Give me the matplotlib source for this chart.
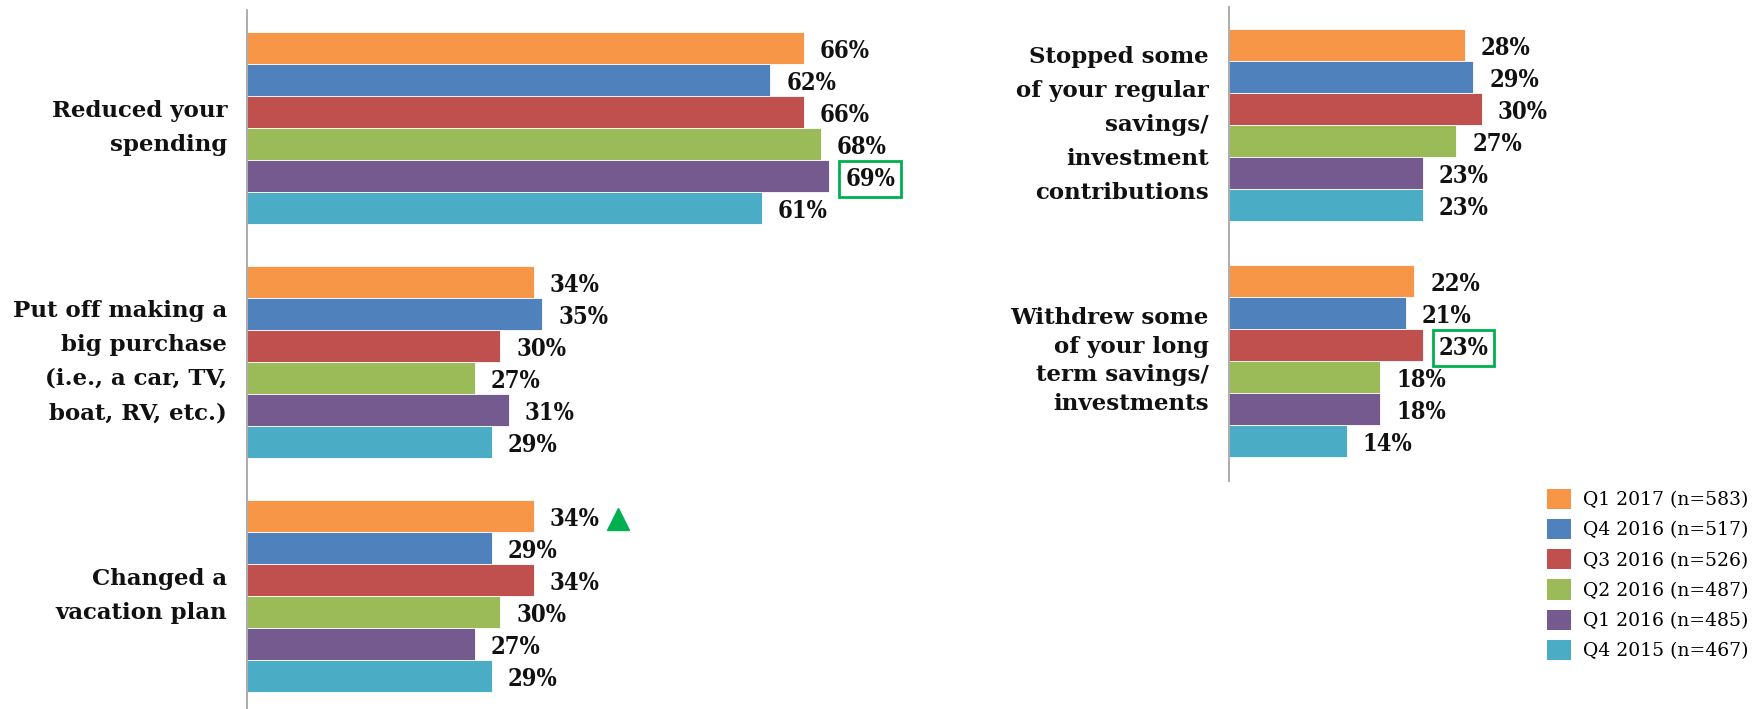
import matplotlib
matplotlib.use("Agg")
import matplotlib.pyplot as plt
from matplotlib.patches import Patch
from matplotlib.transforms import ScaledTranslation

# ---- data -------------------------------------------------------------
left_categories = [
    "Reduced your\nspending",
    "Put off making a\nbig purchase\n(i.e., a car, TV,\nboat, RV, etc.)",
    "Changed a\nvacation plan",
]
right_categories = [
    "Stopped some\nof your regular\nsavings/\ninvestment\ncontributions",
    "Withdrew some\nof your long\nterm savings/\ninvestments",
]
series_labels = [
    "Q1 2017 (n=583)",
    "Q4 2016 (n=517)",
    "Q3 2016 (n=526)",
    "Q2 2016 (n=487)",
    "Q1 2016 (n=485)",
    "Q4 2015 (n=467)",
]
# values per series, in order: left categories then right categories
q1_2017 = [66, 34, 34, 28, 22]
q4_2016 = [62, 35, 29, 29, 21]
q3_2016 = [66, 30, 34, 30, 23]
q2_2016 = [68, 27, 30, 27, 18]
q1_2016 = [69, 31, 27, 23, 18]
q4_2015 = [61, 29, 29, 23, 14]
series_values = [q1_2017, q4_2016, q3_2016, q2_2016, q1_2016, q4_2015]

colors = ["#F79646", "#4F81BD", "#C0504D", "#9BBB59", "#745A8F", "#4BACC6"]

# (series index, category index) pairs that get a green box / up arrow
boxed = [(4, 0), (2, 4)]
up_arrows = [(0, 2)]

# ---- layout (pixel based) --------------------------------------------
W, H, DPI = 1762, 709, 100
PX_PER_PCT = 8.44
BAR_H = 32.0

fig = plt.figure(figsize=(W / DPI, H / DPI), dpi=DPI)
fig.patch.set_facecolor("white")

serif = "DejaVu Serif"


def make_axes(x0, x1, y_top, y_bot):
    ax = fig.add_axes([x0 / W, (H - y_bot) / H, (x1 - x0) / W, (y_bot - y_top) / H])
    ax.set_xlim(0, (x1 - x0) / PX_PER_PCT)
    ax.set_ylim(y_bot, y_top)
    for s in ("top", "right", "bottom"):
        ax.spines[s].set_visible(False)
    ax.spines["left"].set_color("#A6A6A6")
    ax.spines["left"].set_linewidth(1.3)
    ax.set_xticks([])
    ax.set_yticks([])
    ax.patch.set_alpha(0)
    return ax


ax_l = make_axes(247, 960, 10, 709)
ax_r = make_axes(1228.5, 1540, 7, 481)

# axes, category indices, names, first group top, group pitch, label line spacing
panels = [
    (ax_l, [0, 1, 2], left_categories, 31.7, 234.2, [1.71, 1.71, 1.66]),
    (ax_r, [3, 4], right_categories, 29.0, 236.0, [1.70, 1.41]),
]

for ax, cat_idx, cat_names, first_top, spacing, lsp in panels:
    for g, (ci, name) in enumerate(zip(cat_idx, cat_names)):
        top = first_top + g * spacing
        for si, vals in enumerate(series_values):
            yc = top + (si + 0.5) * BAR_H
            v = vals[ci]
            ax.barh(yc, v, height=BAR_H, color=colors[si],
                    edgecolor="white", linewidth=0.6)
            lbl_off = ScaledTranslation(16 / DPI, -3 / DPI, fig.dpi_scale_trans)
            kw = {}
            if (si, ci) in boxed:
                kw["bbox"] = dict(boxstyle="square,pad=0.25", fc="none",
                                  ec="#00B050", lw=2.0)
            ax.text(v, yc, f"{v}%", transform=ax.transData + lbl_off,
                    ha="left", va="center", fontsize=17, fontweight="bold",
                    fontstretch="condensed",
                    family=serif, color="#111111", **kw)
            if (si, ci) in up_arrows:
                tri_off = ScaledTranslation(84.5 / DPI, -3 / DPI, fig.dpi_scale_trans)
                ax.plot([v], [yc], marker="^", ms=16, color="#00B050",
                        transform=ax.transData + tri_off, clip_on=False)
        group_center = top + 3 * BAR_H
        ax.text(-20 / PX_PER_PCT, group_center, name, ha="right", va="center",
                multialignment="right", fontsize=16.5, fontweight="bold",
                family=serif, color="#111111", linespacing=lsp[g], clip_on=False)

handles = [Patch(facecolor=c, edgecolor="none") for c in colors]
fig.legend(handles, series_labels, loc="upper left",
           bbox_to_anchor=(1547 / W, (H - 489) / H), frameon=False,
           prop={"family": serif, "size": 13.5},
           handlelength=1.28, handleheight=1.28, handletextpad=0.62,
           labelspacing=0.52, borderpad=0, borderaxespad=0)

fig.savefig("out.png", dpi=DPI, facecolor="white")
